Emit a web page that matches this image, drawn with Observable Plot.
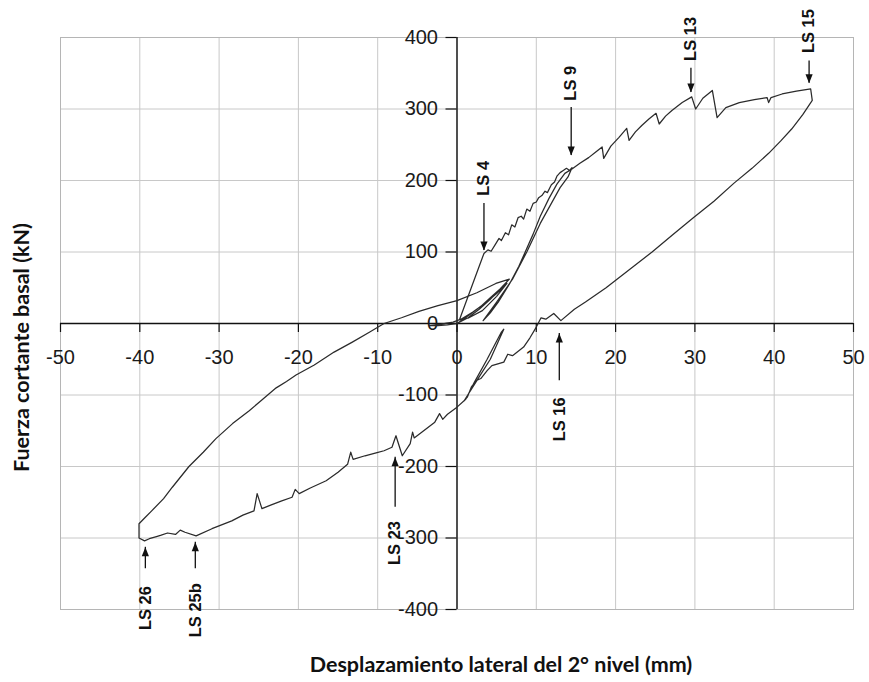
<!DOCTYPE html>
<html><head><meta charset="utf-8">
<script src="https://cdn.jsdelivr.net/npm/d3@7"></script>
<script src="https://cdn.jsdelivr.net/npm/@observablehq/plot@0.6"></script>
<style>body{margin:0;background:#fff;}#chart svg{display:block;}</style>
</head><body><div id="chart"></div>
<script>
// Hysteresis record: lateral displacement (mm) and base shear (kN), in recorded order
const disp = [
  0,0.8,1.8,3,4.2,5.4,6.6,5.6,4.2,2.8,1.4,0,-1.2,-2.4,-3.5,-2,-0.5,0.5,2,3.5,5,6.3,5,3.2,1.5,0.3,
  0.8,1.3,1.8,2.3,2.8,3.4,3.9,4.3,4.8,5.3,5.6,6.1,6.5,6.9,7.3,7.7,8.1,8.4,8.8,9.2,9.6,10.0,10.3,10.7,11.1,11.4,11.9,12.3,12.6,13.0,13.4,13.8,14.2,14.5,
  14.0,13.0,10.5,8.8,7.0,5.0,3.3,
  4.2,5.2,6.6,7.8,8.6,9.6,10.5,11.6,12.6,13.6,14.5,
  15.5,16.6,17.5,18.3,18.5,19.4,20.4,21.4,21.7,22.5,23.3,24.2,25.1,25.5,26.3,27.1,28.4,29.6,30.1,31,32.2,32.8,33.9,35.6,37.5,39.1,39.3,39.6,41,42.8,44.6,44.8,
  43.6,42.2,40.8,39.3,37.2,34.9,32.4,29.8,27.2,24.6,21.8,18.8,16.2,14.8,13.1,12.2,11.2,10.6,10,9.2,8.4,7,6.4,5.9,4.4,3.8,3,2.4,1.8,1.3,0.9,
  2.5,4.2,5.9,5.6,3.8,2.2,1.1,
  0,-1.2,-1.8,-2.2,-2.8,-4.2,-5.4,-5.6,-5.9,-6.9,-7.7,-8.2,-9.2,-10.2,-11.6,-13.1,-13.4,-13.8,-15,-16.5,-18.5,-19.9,-20.4,-20.8,-22.1,-23.5,-24.6,-25.2,-25.6,-27,-28.4,-30.9,-32.9,-34.3,-34.9,-35.5,-36.5,-37.3,-37.9,-38.8,-39.4,-40.1,-40.1,
  -39.3,-38.5,-37,-35.9,-33.8,-32,-30.4,-28.3,-26.2,-24.5,-22.8,-21.5,-20.3,-18,-15.5,-13.2,-11,-9.2,-7,-4.8,-2.4,0,2.5,4.9,6.6
];
const force = [
  0,6,14,24,36,48,62,50,34,20,8,0,-2,-3,-3,-1,2,6,16,28,42,56,38,18,8,5,
  20,35,50,65,80,98,103,101,110,119,116,127,124,138,135,148,150,146,160,157,168,170,176,179,185,183,194,198,206,211,214,217,214,218,
  205,190,140,100,62,30,4,
  15,30,55,80,100,125,150,175,195,210,216,
  224,232,240,247,231,248,260,273,256,268,277,286,294,279,290,298,309,317,300,315,326,288,302,309,313,316,309,316,321,325,328,312,
  292,272,255,238,217,196,171,148,124,100,76,50,30,20,4,14,6,8,-5,-20,-33,-45,-43,-54,-59,-66,-77,-80,-89,-103,-108,
  -80,-50,-8,-12,-50,-82,-106,
  -117,-127,-134,-126,-138,-150,-160,-152,-168,-185,-157,-173,-178,-181,-185,-190,-180,-197,-208,-220,-230,-238,-232,-243,-248,-254,-259,-238,-262,-268,-276,-287,-297,-292,-289,-295,-293,-296,-298,-301,-304,-300,-280,
  -271,-262,-245,-229,-200,-180,-161,-140,-122,-106,-90,-81,-72,-58,-40,-26,-12,0,8,17,25,32,43,56,62
];
const xTicks = [-50,-40,-30,-20,-10,0,10,20,30,40,50];
const yTicks = [-400,-300,-200,-100,0,100,200,300,400];
// Limit-state annotations
const lsLabels = ["LS 4","LS 9","LS 13","LS 15","LS 16","LS 23","LS 26","LS 25b"];
const lsX     = [3.4, 14.4, 29.5, 44.4, 12.9, -7.8, -39.3, -33.0];
const lsTip   = [102, 235, 323, 336, -14, -187, -313, -306];
const lsTail  = [168, 302, 357, 367, -80, -257, -343, -343];
const lsTextY = [203, 336, 398, 409, -134, -307, -398, -401];

const curve = disp.map((d, i) => ({x: d, y: force[i]}));
const idx = lsLabels.map((_, i) => i);
const headDown = {draw(ctx){ ctx.moveTo(0,0); ctx.lineTo(-3.6,-9); ctx.lineTo(3.6,-9); ctx.closePath(); }};
const headUp = {draw(ctx){ ctx.moveTo(0,0); ctx.lineTo(-3.6,9); ctx.lineTo(3.6,9); ctx.closePath(); }};
const downIdx = idx.filter(i => lsTip[i] < lsTail[i]);
const upIdx = idx.filter(i => lsTip[i] > lsTail[i]);

const tickFont = "Liberation Sans, Arial, sans-serif";
const titleFont = "Lato, sans-serif";
const chart = Plot.plot({
  width: 869, height: 682,
  marginLeft: 60, marginRight: 16, marginTop: 37, marginBottom: 73,
  x: {domain: [-50, 50], axis: null},
  y: {domain: [-400, 400], axis: null},
  style: {background: "#fff", color: "#111"},
  marks: [
    Plot.ruleX(xTicks, {stroke: "#c8c8c8", strokeWidth: 1}),
    Plot.ruleY(yTicks, {stroke: "#c8c8c8", strokeWidth: 1}),
    Plot.frame({stroke: "#b5b5b5"}),
    Plot.ruleX([0], {stroke: "#111", strokeWidth: 1.4}),
    Plot.ruleY([0], {stroke: "#111", strokeWidth: 1.4}),
    Plot.ruleY(yTicks, {y: d => d, x1: 0, x2: 0, insetLeft: -11, stroke: "#111", strokeWidth: 1.2}),
    Plot.ruleX(xTicks, {x: d => d, y1: 0, y2: 0, insetBottom: -9, stroke: "#111", strokeWidth: 1.2}),
    Plot.text(yTicks, {x: 0, y: d => d, text: d => String(d), textAnchor: "end", dx: -19, fontSize: 20, fontFamily: tickFont, fill: "#1a1a1a"}),
    Plot.text(xTicks, {x: d => d, y: 0, text: d => String(d), dy: 34, fontSize: 20, fontFamily: tickFont, fill: "#1a1a1a"}),
    Plot.line(curve, {x: "x", y: "y", stroke: "#2b2b2b", strokeWidth: 1.25, curve: "linear"}),
    Plot.ruleX(idx, {x: i => lsX[i], y1: i => lsTail[i], y2: i => lsTip[i], stroke: "#111", strokeWidth: 1.3}),
    Plot.dot(downIdx, {x: i => lsX[i], y: i => lsTip[i], symbol: headDown, fill: "#111", stroke: "none"}),
    Plot.dot(upIdx, {x: i => lsX[i], y: i => lsTip[i], symbol: headUp, fill: "#111", stroke: "none"}),
    Plot.text(idx, {x: i => lsX[i], y: i => lsTextY[i], text: i => lsLabels[i], rotate: -90, textAnchor: "middle", lineAnchor: "middle", fontSize: 16.5, fontWeight: "bold", fontFamily: tickFont, fill: "#111"}),
    Plot.text(["Fuerza cortante basal (kN)"], {frameAnchor: "left", text: d => d, rotate: -90, textAnchor: "middle", lineAnchor: "middle", dx: -38, dy: 24, fontSize: 21.5, fontWeight: "bold", fontFamily: titleFont, fill: "#111"}),
    Plot.text(["Desplazamiento lateral del 2° nivel (mm)"], {frameAnchor: "bottom", text: d => d, textAnchor: "middle", lineAnchor: "middle", dx: 44, dy: 56, fontSize: 21.5, fontWeight: "bold", fontFamily: titleFont, fill: "#111"})
  ]
});
document.getElementById("chart").appendChild(chart);
</script>
</body></html>
